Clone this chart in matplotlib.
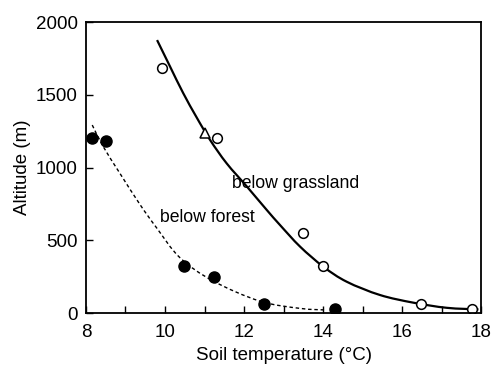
import numpy as np
import matplotlib.pyplot as plt
from matplotlib.path import Path
from matplotlib.patches import PathPatch
from matplotlib.ticker import MultipleLocator

plt.rcParams["font.family"] = ["Liberation Sans", "DejaVu Sans"]

# measured points
grass_temp = [9.92, 11.31, 13.48, 13.99, 16.48, 17.76]
grass_alt = [1682, 1200, 552, 325, 60, 25]
tri_temp = [11.01]
tri_alt = [1235]
forest_temp = [8.16, 8.52, 10.48, 11.24, 12.51, 14.3]
forest_alt = [1200, 1182, 323, 245, 60, 25]

# fitted curves
grass_curve_t = [9.80, 10.13, 10.46, 10.80, 11.14, 11.56, 12.07, 12.57, 12.91,
                 13.42, 14.01, 14.60, 15.44, 16.29, 17.13, 17.93]
grass_curve_a = [1876, 1693, 1512, 1345, 1190, 1029, 870, 710, 605,
                 456, 318, 215, 124, 71, 36, 25]
forest_curve_t = [8.16, 8.44, 8.86, 9.37, 9.79, 10.38, 11.22, 12.40, 13.42, 14.09]
forest_curve_a = [1292, 1143, 960, 745, 585, 380, 220, 82, 32, 21]


def smooth_path(ax, xs, ys):
    """Catmull-Rom through the points, drawn as cubic Bezier in display space"""
    pts = ax.transData.transform(np.column_stack([xs, ys]))
    verts = [pts[0]]
    codes = [Path.MOVETO]
    n = len(pts)
    for i in range(n - 1):
        p0 = pts[max(i - 1, 0)]
        p1 = pts[i]
        p2 = pts[i + 1]
        p3 = pts[min(i + 2, n - 1)]
        verts += [p1 + (p2 - p0) / 6, p2 - (p3 - p1) / 6, p2]
        codes += [Path.CURVE4] * 3
    verts = ax.transData.inverted().transform(np.array(verts))
    return Path(verts, codes)


fig = plt.figure(figsize=(4.91, 3.67), dpi=100)
ax = fig.add_axes([0.175, 0.147, 0.805, 0.793])
ax.set_xlim(8, 18)
ax.set_ylim(0, 2000)

ax.add_patch(PathPatch(smooth_path(ax, grass_curve_t, grass_curve_a),
                       fc="none", ec="black", lw=1.6))
ax.add_patch(PathPatch(smooth_path(ax, forest_curve_t, forest_curve_a),
                       fc="none", ec="black", lw=1.0, ls=(0, (2.5, 2))))

ax.plot(grass_temp, grass_alt, "o", mfc="white", mec="black", ms=7, mew=1.1)
ax.plot(tri_temp, tri_alt, "^", mfc="white", mec="black", ms=7, mew=1.1)
ax.plot(forest_temp, forest_alt, "o", mfc="black", mec="black", ms=8)

ax.text(11.7, 887, "below grassland", fontsize=12.7, va="center", ha="left")
ax.text(9.87, 660, "below forest", fontsize=12.7, va="center", ha="left")

ax.xaxis.set_major_locator(MultipleLocator(2))
ax.xaxis.set_minor_locator(MultipleLocator(1))
ax.yaxis.set_major_locator(MultipleLocator(500))
ax.tick_params(which="both", direction="in", top=False, right=False,
               labelsize=13.5, width=1.0)
ax.tick_params(which="major", length=5, pad=6)
ax.tick_params(which="minor", length=5)
ax.tick_params(axis="x", which="major", pad=8)
for s in ax.spines.values():
    s.set_linewidth(1.3)

ax.set_xlabel("Soil temperature (°C)", fontsize=13.5, labelpad=4)
ax.set_ylabel("Altitude (m)", fontsize=13.5, labelpad=3)

fig.savefig("out.png", dpi=100)
